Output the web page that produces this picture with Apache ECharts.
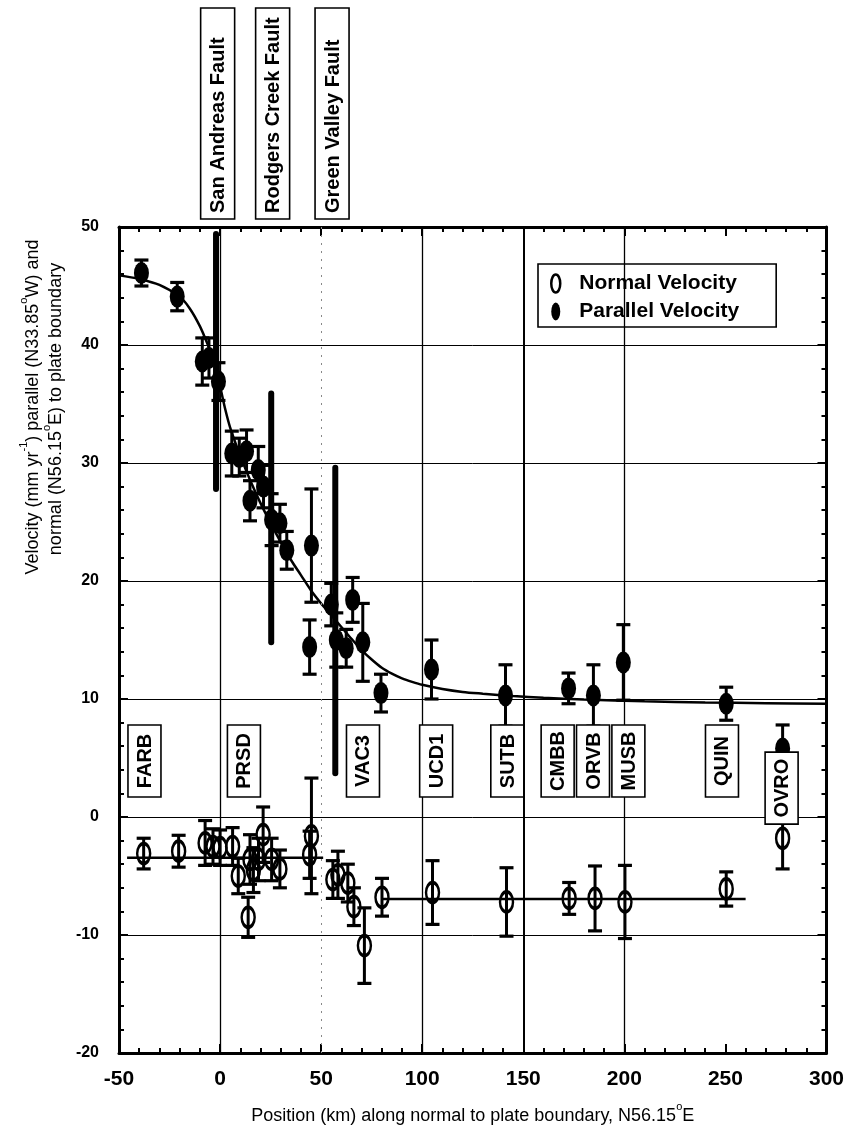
<!DOCTYPE html>
<html><head><meta charset="utf-8">
<script src="https://cdn.jsdelivr.net/npm/echarts@6/dist/echarts.min.js"></script>
<style>html,body{margin:0;padding:0;background:#fff}#c{width:847px;height:1135px}</style>
</head><body><div id="c"></div>
<script>
// ---------- data ----------
const parallelX   = [-38.9,-21.2,-8.8,-5.5,-0.8,5.8,9.5,13.1,14.8,18.9,21.5,25.5,29.6,33.0,44.3,45.2,55.0,57.5,62.4,65.6,70.6,79.6,104.6,141.2,172.4,184.7,199.5,250.4,278.3];
const parallelY   = [46.1,44.1,38.6,38.9,36.9,30.8,30.5,31.0,26.8,29.4,28.0,25.2,24.9,22.6,14.4,23.0,18.0,15.0,14.3,18.4,14.8,10.5,12.5,10.3,10.9,10.3,13.1,9.6,5.8];
const parallelErr = [1.1,1.2,2.0,1.7,1.6,1.9,1.6,1.8,1.7,2.0,1.8,2.2,1.6,1.6,2.3,4.8,1.8,2.3,1.6,1.9,3.3,1.6,2.5,2.6,1.3,2.6,3.2,1.4,2.0];

const normalX   = [-37.8,-20.5,-7.4,-3.5,0.0,6.2,9.0,13.9,14.8,16.5,19.0,21.3,25.5,29.6,44.3,45.2,55.8,58.3,63.2,66.2,71.4,80.1,105.1,141.7,172.7,185.5,200.3,250.4,278.3];
const normalY   = [-3.1,-2.9,-2.2,-2.5,-2.6,-2.5,-5.0,-8.5,-3.6,-4.5,-3.6,-1.5,-3.6,-4.4,-3.2,-1.6,-5.3,-4.9,-5.6,-7.6,-10.9,-6.8,-6.4,-7.2,-6.9,-6.9,-7.2,-6.1,-1.8];
const normalErr = [1.3,1.35,1.9,1.5,1.5,1.6,1.5,1.7,2.1,1.9,1.8,2.35,1.8,1.6,2.0,4.9,1.6,2.0,1.6,1.6,3.2,1.6,2.7,2.9,1.35,2.75,3.1,1.45,2.6];

const curveX = [-50,-40,-30,-20,-15,-10,-6.5,-3,0,2.5,5,10,15,20,25,30,35,40,45,50,55,60,65,70,75,80,85,90,95,100,110,120,130,145,160,180,210,240,270,300];
const curveY = [45.9,45.6,45.1,44.1,43.1,41.6,40.2,38.6,36.5,34.6,33.0,30.6,28.5,26.6,24.9,23.3,21.8,20.5,19.2,18.1,17.1,16.1,15.1,14.15,13.35,12.65,12.15,11.75,11.45,11.2,10.85,10.6,10.45,10.25,10.1,9.95,9.8,9.7,9.65,9.6];

const normalFitAX = [-46, 51];
const normalFitAY = [-3.45, -3.45];
const normalFitBX = [80, 260];
const normalFitBY = [-6.95, -6.95];

const faultNames   = ['San Andreas Fault','Rodgers Creek Fault','Green Valley Fault'];
const faultLabelX  = [-1.2, 26.0, 55.4];
const faultBarX    = [-2.0, 25.3, 57.0];
const faultBarLow  = [27.8, 14.8, 3.7];
const faultBarHigh = [49.4, 35.9, 29.6];

const stationNames  = ['FARB','PRSD','VAC3','UCD1','SUTB','CMBB','ORVB','MUSB','QUIN','OVRO'];
const stationLabelX = [-37.4, 11.8, 70.7, 106.9, 142.1, 167.0, 184.5, 202.0, 248.3, 277.8];
const stationLabelY = [4.75, 4.75, 4.75, 4.75, 4.75, 4.75, 4.75, 4.75, 4.75, 2.45];

const refLinesX    = [0, 100, 150, 200];
const refLineWidth = [1.3, 1.3, 2, 1.3];
const dashedLinesX = [50];

// ---------- chart ----------
const FONT = '"Liberation Sans", Arial, Helvetica, sans-serif';
const ELLIPSE = 'path://M5,0 A5,10 0 1,1 5,20 A5,10 0 1,1 5,0 Z';
const chart = echarts.init(document.getElementById('c'), null, {renderer: 'canvas'});

function errItem(params, api) {
  const x = api.value(0), y = api.value(1), e = api.value(2);
  const t = api.coord([x, y + e]), b = api.coord([x, y - e]);
  const hw = 7;
  return {type: 'group', children: [
    {type: 'line', shape: {x1: t[0], y1: t[1], x2: b[0], y2: b[1]}, style: {stroke: '#000', lineWidth: 3}},
    {type: 'line', shape: {x1: t[0] - hw, y1: t[1], x2: t[0] + hw, y2: t[1]}, style: {stroke: '#000', lineWidth: 3.2}},
    {type: 'line', shape: {x1: b[0] - hw, y1: b[1], x2: b[0] + hw, y2: b[1]}, style: {stroke: '#000', lineWidth: 3.2}}
  ]};
}
function faultBarItem(params, api) {
  const x = api.value(0);
  const a = api.coord([x, api.value(1)]), b = api.coord([x, api.value(2)]);
  return {type: 'line', shape: {x1: a[0], y1: a[1], x2: b[0], y2: b[1]}, style: {stroke: '#000', lineWidth: 6, lineCap: 'round'}};
}
function stationItem(params, api) {
  const i = params.dataIndex;
  const p = api.coord([api.value(0), api.value(1)]);
  const w = 33, h = 72;
  return {type: 'group', children: [
    {type: 'rect', shape: {x: p[0] - w / 2, y: p[1] - h / 2, width: w, height: h}, style: {fill: '#fff', stroke: '#000', lineWidth: 1.6}},
    {type: 'text', x: p[0] + 1, y: p[1], rotation: Math.PI / 2,
     style: {text: stationNames[i], font: 'bold 20px ' + FONT, fill: '#000', align: 'center', verticalAlign: 'middle'}}
  ]};
}
function faultLabelItem(params, api) {
  const i = params.dataIndex;
  const p = api.coord([api.value(0), 50]);
  const w = 34, bottom = p[1] - 8, top = 8;
  return {type: 'group', children: [
    {type: 'rect', shape: {x: p[0] - w / 2, y: top, width: w, height: bottom - top}, style: {fill: '#fff', stroke: '#000', lineWidth: 1.6}},
    {type: 'text', x: p[0] + 1, y: bottom - 6, rotation: Math.PI / 2,
     style: {text: faultNames[i], font: 'bold 20px ' + FONT, fill: '#000', align: 'left', verticalAlign: 'middle'}}
  ]};
}

const richT = {
  n: {fontFamily: FONT, fontSize: 18, color: '#000', lineHeight: 24, verticalAlign: 'bottom'},
  s: {fontFamily: FONT, fontSize: 11, color: '#000', lineHeight: 24, verticalAlign: 'top'}
};

const axisCommon = {
  axisLine: {show: true, onZero: false, lineStyle: {color: '#000', width: 3}},
  axisTick: {show: true, inside: true, length: 9, lineStyle: {color: '#000', width: 2}},
  minorTick: {show: true, splitNumber: 5, length: 5, lineStyle: {color: '#000', width: 2}},
};

const option = {
  animation: false,
  backgroundColor: '#fff',
  grid: {left: 119, right: 18, top: 227, bottom: 82, containLabel: false},
  xAxis: [
    Object.assign({
      type: 'value', min: -50, max: 300, interval: 50, position: 'bottom',
      axisLabel: {color: '#000', fontFamily: FONT, fontWeight: 'bold', fontSize: 21, margin: 16},
      splitLine: {show: false},
      name: '{n|Position (km) along normal to plate boundary, N56.15}{s|o}{n|E}',
      nameLocation: 'middle', nameGap: 48,
      nameTextStyle: {rich: richT}
    }, axisCommon),
    Object.assign({
      type: 'value', min: -50, max: 300, interval: 50, position: 'top',
      axisLabel: {show: false}, splitLine: {show: false}
    }, axisCommon)
  ],
  yAxis: [
    Object.assign({
      type: 'value', min: -20, max: 50, interval: 10, position: 'left',
      axisLabel: {color: '#000', fontFamily: FONT, fontWeight: 'bold', fontSize: 16, margin: 20},
      splitLine: {show: true, lineStyle: {color: '#000', width: 1}}
    }, axisCommon),
    Object.assign({
      type: 'value', min: -20, max: 50, interval: 10, position: 'right',
      axisLabel: {show: false}, splitLine: {show: false}
    }, axisCommon)
  ],
  legend: {
    orient: 'vertical', left: 538, top: 264,
    padding: [9, 37, 5, 12], itemGap: 7, itemWidth: 13, itemHeight: 18,
    borderColor: '#000', borderWidth: 1.6, backgroundColor: '#fff',
    textStyle: {color: '#000', fontFamily: FONT, fontWeight: 'bold', fontSize: 21, padding: [0, 0, 0, 12]},
    data: [
      {name: 'Normal Velocity', icon: ELLIPSE, itemStyle: {color: 'rgba(0,0,0,0)', borderColor: '#000', borderWidth: 2.5, opacity: 1}},
      {name: 'Parallel Velocity', icon: ELLIPSE, itemStyle: {color: '#000', opacity: 1}}
    ]
  },
  series: [
    {
      name: 'fit parallel', type: 'line', smooth: 0.3, symbol: 'none', z: 2,
      lineStyle: {color: '#000', width: 2.5},
      data: curveX.map((x, i) => [x, curveY[i]]),
      markLine: {
        silent: true, symbol: 'none', label: {show: false},
        data: refLinesX.map((x, i) => ({xAxis: x, lineStyle: {color: '#000', width: refLineWidth[i], type: 'solid'}}))
          .concat(dashedLinesX.map(x => ({xAxis: x, lineStyle: {color: '#888', width: 1, type: [2, 6]}})))
      }
    },
    {
      name: 'fit normal A', type: 'line', symbol: 'none', z: 2,
      lineStyle: {color: '#000', width: 2.5},
      data: normalFitAX.map((x, i) => [x, normalFitAY[i]])
    },
    {
      name: 'fit normal B', type: 'line', symbol: 'none', z: 2,
      lineStyle: {color: '#000', width: 2.5},
      data: normalFitBX.map((x, i) => [x, normalFitBY[i]])
    },
    {
      name: 'parallel err', type: 'custom', renderItem: errItem, z: 3,
      encode: {x: 0, y: 1},
      data: parallelX.map((x, i) => [x, parallelY[i], parallelErr[i]])
    },
    {
      name: 'normal err', type: 'custom', renderItem: errItem, z: 3,
      encode: {x: 0, y: 1},
      data: normalX.map((x, i) => [x, normalY[i], normalErr[i]])
    },
    {
      name: 'Parallel Velocity', type: 'scatter', symbol: ELLIPSE, symbolSize: [15, 22], z: 4,
      itemStyle: {color: '#000', opacity: 1},
      data: parallelX.map((x, i) => [x, parallelY[i]])
    },
    {
      name: 'Normal Velocity', type: 'scatter', symbol: ELLIPSE, symbolSize: [13, 20], z: 4,
      itemStyle: {color: 'rgba(0,0,0,0)', borderColor: '#000', borderWidth: 3, opacity: 1},
      data: normalX.map((x, i) => [x, normalY[i]])
    },
    {
      name: 'faults', type: 'custom', renderItem: faultBarItem, z: 5,
      encode: {x: 0, y: [1, 2]},
      data: faultBarX.map((x, i) => [x, faultBarLow[i], faultBarHigh[i]])
    },
    {
      name: 'stations', type: 'custom', renderItem: stationItem, z: 6,
      encode: {x: 0, y: 1},
      data: stationLabelX.map((x, i) => [x, stationLabelY[i]])
    },
    {
      name: 'fault labels', type: 'custom', renderItem: faultLabelItem, z: 6, clip: false,
      encode: {x: 0},
      data: faultLabelX.map(x => [x])
    }
  ],
  graphic: [
    {type: 'text', x: 30, y: 407, rotation: Math.PI / 2,
     style: {text: '{n|Velocity (mm yr}{s|-1}{n|) parallel (N33.85}{s|o}{n|W) and}', rich: richT, align: 'center', verticalAlign: 'middle'}},
    {type: 'text', x: 53, y: 409, rotation: Math.PI / 2,
     style: {text: '{n|normal (N56.15}{s|o}{n|E) to plate boundary}', rich: richT, align: 'center', verticalAlign: 'middle'}}
  ]
};
chart.setOption(option);
</script>
</body></html>
